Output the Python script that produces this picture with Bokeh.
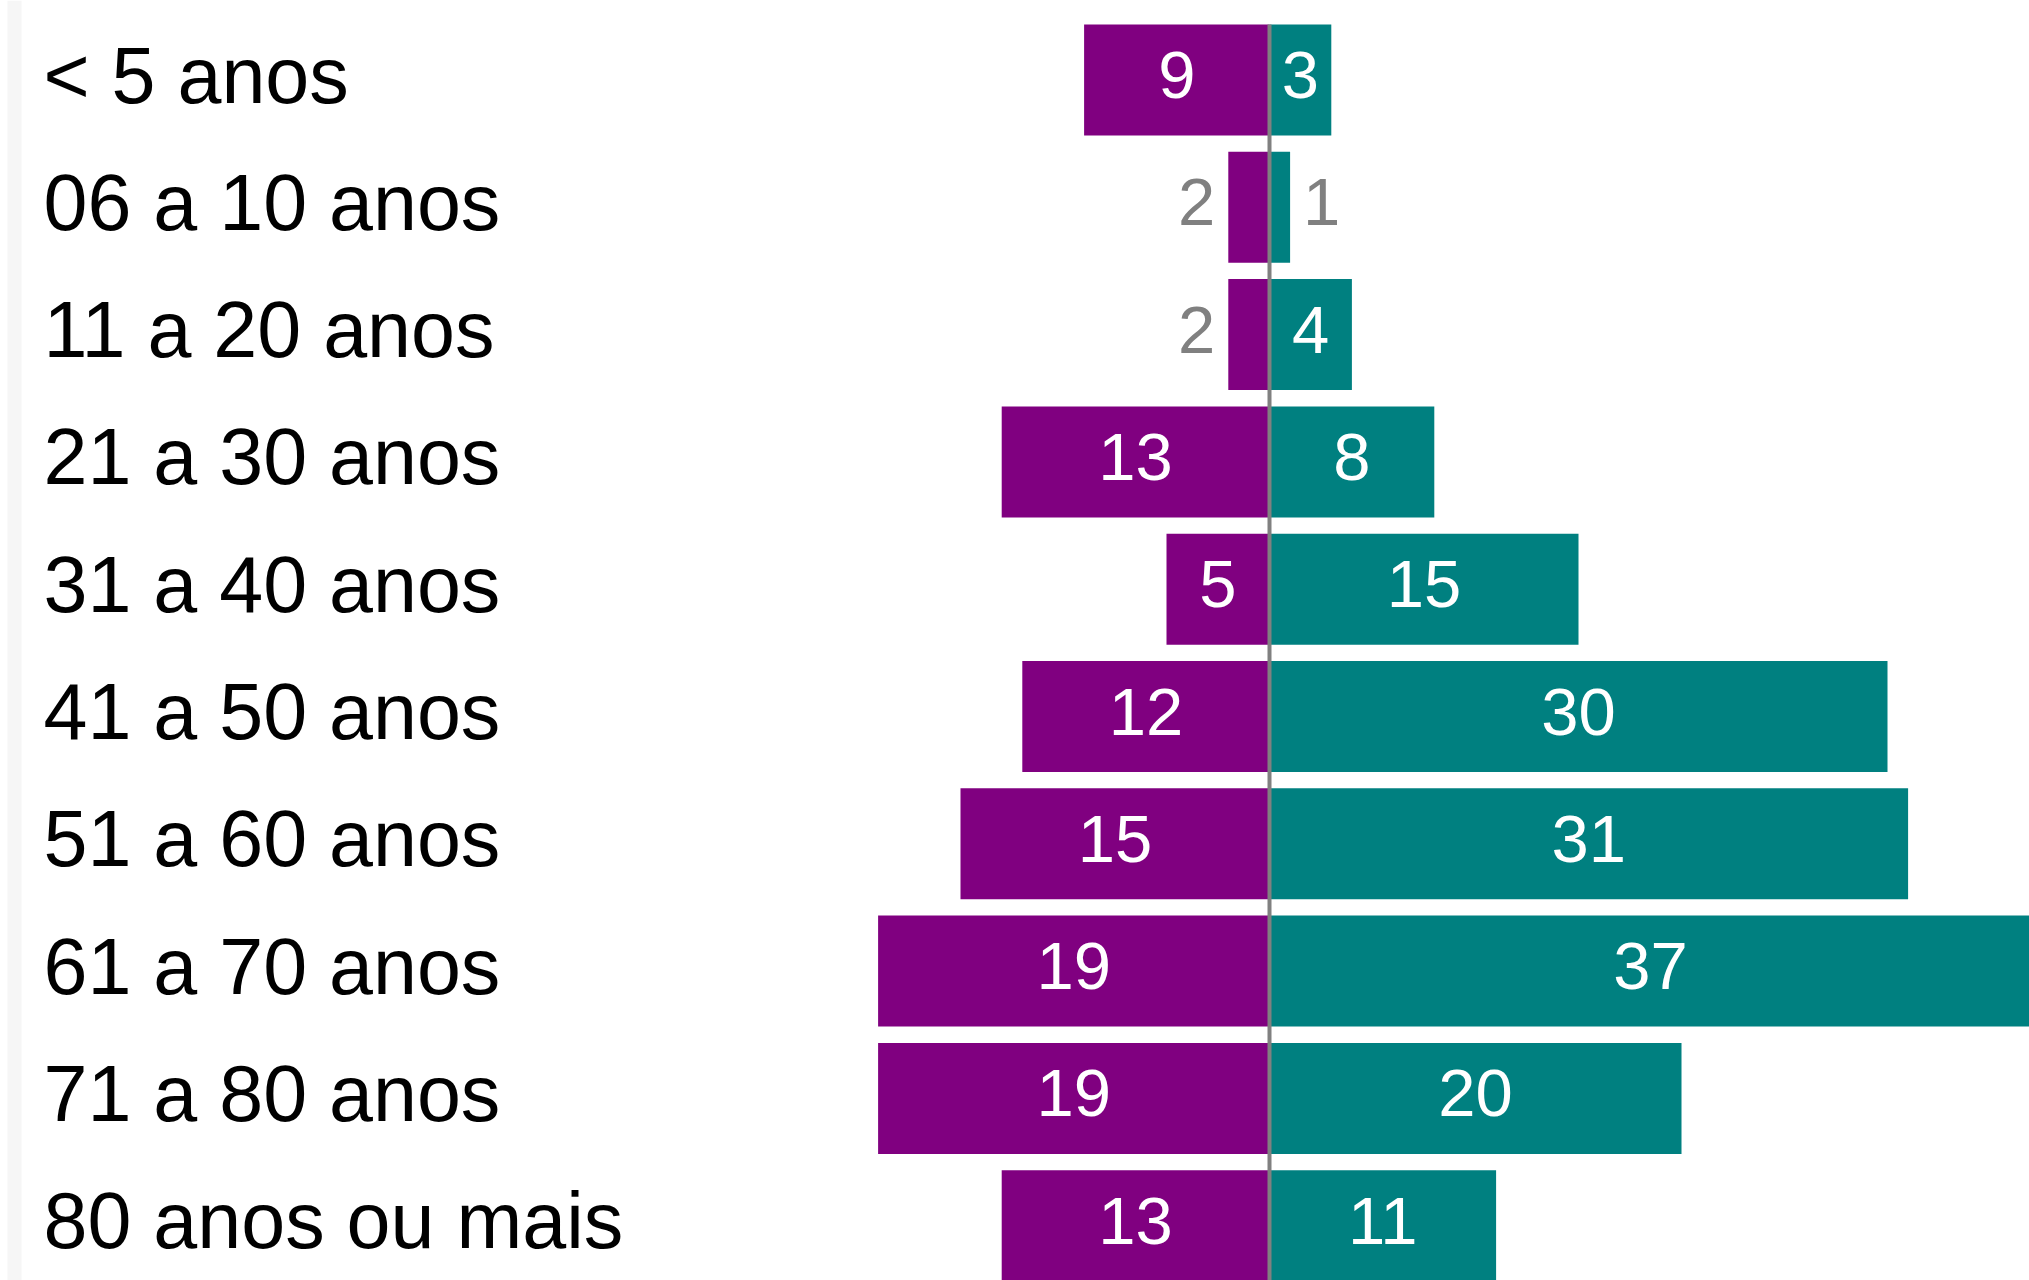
from bokeh.plotting import figure
from bokeh.models import Range1d, ColumnDataSource, BoxAnnotation
from bokeh.core.properties import value
from bokeh.embed import file_html
from bokeh.resources import INLINE

# ---- data ----
categories = ["< 5 anos", "06 a 10 anos", "11 a 20 anos", "21 a 30 anos",
              "31 a 40 anos", "41 a 50 anos", "51 a 60 anos", "61 a 70 anos",
              "71 a 80 anos", "80 anos ou mais"]
left_values = [9, 2, 2, 13, 5, 12, 15, 19, 19, 13]     # purple (left side)
right_values = [3, 1, 4, 8, 15, 30, 31, 37, 20, 11]    # teal (right side)

# ---- layout ----
W, H = 2029, 1280
UNIT = 20.6          # px per value unit
CENTER_PX = 1269     # frame x of zero line
ROW_PX = 127.3       # px per row
FIRST_ROW_PX = 79.5  # frame y of first row center
BAR_H = 0.872
FONT = "Liberation Sans"
PURPLE = "#800080"
TEAL = "#008080"
GRAY = "#808080"
TEXT_DY = -5

x_start = -CENTER_PX / UNIT
x_end = x_start + W / UNIT
n = len(categories)
y_top = -FIRST_ROW_PX / ROW_PX
y_bottom = y_top + H / ROW_PX

p = figure(width=W, height=H, output_backend="svg", toolbar_location=None,
           x_range=Range1d(x_start, x_end), y_range=Range1d(y_bottom, y_top),
           min_border=0, min_border_left=0, min_border_right=0,
           min_border_top=0, min_border_bottom=0)
p.axis.visible = False
p.grid.visible = False
p.outline_line_color = None
p.background_fill_color = "white"
p.border_fill_color = "white"

# faint left strip
p.add_layout(BoxAnnotation(left=7, right=21, left_units="screen", right_units="screen",
                           fill_color="#f6f6f6", fill_alpha=1.0, line_color=None, level="underlay"))

rows = list(range(n))
src = ColumnDataSource(dict(
    y=rows, cat=categories,
    lv=[-v for v in left_values], rv=right_values,
    zero=[0] * n,
))

p.hbar(y="y", left="lv", right="zero", height=BAR_H, source=src,
       fill_color=PURPLE, line_color=None)
p.hbar(y="y", left="zero", right="rv", height=BAR_H, source=src,
       fill_color=TEAL, line_color=None)

# zero line
p.segment(x0=[0], x1=[0], y0=[rows[0] - BAR_H / 2], y1=[rows[-1] + BAR_H / 2],
          line_color=GRAY, line_width=4)

# category labels
p.text(x=[x_start + 43 / UNIT] * n, y=rows, text=categories, y_offset=TEXT_DY,
       text_font=value(FONT), text_font_size="79px", text_color="black",
       text_align="left", text_baseline="middle")

# value labels
THRESH = 3
for vals, sign in ((left_values, -1), (right_values, 1)):
    ins = [(i, v) for i, v in enumerate(vals) if v >= THRESH]
    outs = [(i, v) for i, v in enumerate(vals) if v < THRESH]
    if ins:
        p.text(x=[sign * v / 2 for i, v in ins], y=[i for i, v in ins],
               text=[str(v) for i, v in ins], y_offset=TEXT_DY,
               text_font=value(FONT), text_font_size="67px", text_color="white",
               text_align="center", text_baseline="middle")
    if outs:
        p.text(x=[sign * v for i, v in outs], y=[i for i, v in outs],
               text=[str(v) for i, v in outs], x_offset=13 * sign, y_offset=TEXT_DY,
               text_font=value(FONT), text_font_size="67px", text_color=GRAY,
               text_align="left" if sign > 0 else "right", text_baseline="middle")

open("out.html", "w").write(file_html(p, INLINE))
